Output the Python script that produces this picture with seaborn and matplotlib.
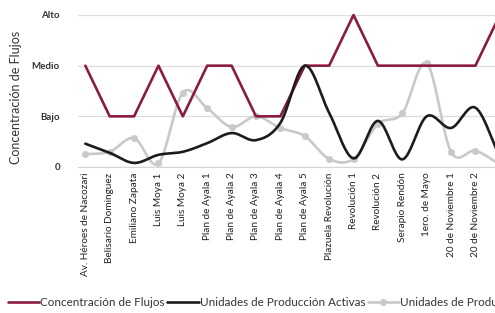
import numpy as np
import pandas as pd
import matplotlib
matplotlib.use("Agg")
import matplotlib.pyplot as plt
from matplotlib.lines import Line2D
import seaborn as sns

categorias = ["Av. Héroes de Nacozari", "Belisario Dominguez", "Emiliano Zapata",
              "Luis Moya 1", "Luis Moya 2", "Plan de Ayala 1", "Plan de Ayala 2",
              "Plan de Ayala 3", "Plan de Ayala 4", "Plan de Ayala 5",
              "Plazuela Revolución", "Revolución 1", "Revolución 2",
              "Serapio Rendón", "1ero. de Mayo", "20 de Noviembre 1",
              "20 de Noviembre 2", ""]
concentracion = [2, 1, 1, 2, 1, 2, 2, 1, 1, 2, 2, 3, 2, 2, 2, 2, 2, 3]
activas = [0.46, 0.28, 0.08, 0.24, 0.30, 0.47, 0.67, 0.53, 0.87, 2.0,
           1.07, 0.17, 0.91, 0.15, 1.0, 0.77, 1.17, 0.2]
inactivas = [0.25, 0.30, 0.57, 0.07, 1.47, 1.16, 0.79, 1.0, 0.77, 0.61,
             0.16, 0.16, 0.85, 1.06, 2.05, 0.30, 0.32, 0.05]
niveles = ["0", "Bajo", "Medio", "Alto"]
series_nombres = ["Concentración de Flujos", "Unidades de Producción Activas",
                  "Unidades de Producción Inactivas"]

ROJO = "#8c1c3f"
NEGRO = "#1c1c1c"
GRIS = "#c9c9c9"


def suavizar(y, n=20):
    """Catmull-Rom curve through the data points (Excel 'smoothed line' style)."""
    y = np.asarray(y, float)
    x = np.arange(len(y), dtype=float)
    px = np.concatenate([[2 * x[0] - x[1]], x, [2 * x[-1] - x[-2]]])
    py = np.concatenate([[2 * y[0] - y[1]], y, [2 * y[-1] - y[-2]]])
    xs, ys = [], []
    t = np.linspace(0, 1, n, endpoint=False)
    for i in range(1, len(px) - 2):
        for arr, out in ((px, xs), (py, ys)):
            p0, p1, p2, p3 = arr[i - 1], arr[i], arr[i + 1], arr[i + 2]
            out.append(0.5 * ((2 * p1) + (-p0 + p2) * t
                              + (2 * p0 - 5 * p1 + 4 * p2 - p3) * t ** 2
                              + (-p0 + 3 * p1 - 3 * p2 + p3) * t ** 3))
    xs.append([x[-1]]); ys.append([y[-1]])
    return np.concatenate(xs), np.concatenate(ys)


sns.set_style("white")
plt.rcParams["font.family"] = ["Lato", "DejaVu Sans"]

fig = plt.figure(figsize=(4.95, 3.13), dpi=100)
ax = fig.add_axes([78 / 495, 146 / 313, 434 / 495, 152 / 313])

df = pd.DataFrame({"idx": np.arange(len(categorias)), "conc": concentracion})
sns.lineplot(data=df, x="idx", y="conc", ax=ax, color=ROJO, lw=1.9,
             clip_on=False, zorder=3)

xa, ya = suavizar(activas)
sns.lineplot(x=xa, y=ya, ax=ax, color=NEGRO, lw=1.9, sort=False,
             clip_on=False, zorder=4, estimator=None)

xi, yi = suavizar(inactivas)
sns.lineplot(x=xi, y=yi, ax=ax, color=GRIS, lw=1.9, sort=False,
             clip_on=False, zorder=2, estimator=None)
sns.scatterplot(x=np.arange(len(inactivas)), y=inactivas, ax=ax, color=GRIS,
                s=22, edgecolor=GRIS, zorder=2, clip_on=False)

ax.set_xlim(-0.3, 17.5)
ax.set_ylim(0, 3)
ax.set_yticks(range(4))
ax.set_yticklabels(niveles, fontsize=7, color="#333333", fontweight="bold")
ax.set_xticks(range(len(categorias)))
ax.set_xticklabels(categorias, rotation=90, fontsize=7.2, color="#222222",
                   family=["Liberation Sans Narrow", "Lato", "DejaVu Sans"])
ax.tick_params(axis="y", length=0, pad=13)
ax.tick_params(axis="x", length=0, pad=4)
ax.yaxis.grid(True, color="#dddddd", lw=0.9)
ax.set_axisbelow(True)
for s in ["top", "right", "left"]:
    ax.spines[s].set_visible(False)
ax.spines["bottom"].set_color("#d5d5d5")
ax.set_xlabel("")
ax.set_ylabel("Concentración de Flujos", fontsize=9, color="#333333")
ax.yaxis.set_label_coords(-0.128, 0.46)

handles = [Line2D([], [], color=ROJO, lw=1.9),
           Line2D([], [], color=NEGRO, lw=1.9),
           Line2D([], [], color=GRIS, lw=1.9, marker="o", ms=4)]
fig.legend(handles, series_nombres, loc="lower left", bbox_to_anchor=(0.0, -0.008),
           ncol=3, frameon=False, fontsize=8.4, handlelength=2.7,
           handletextpad=0.1, columnspacing=0.2, borderaxespad=0.25,
           labelcolor="#333333")

fig.savefig("out.png", dpi=100)
